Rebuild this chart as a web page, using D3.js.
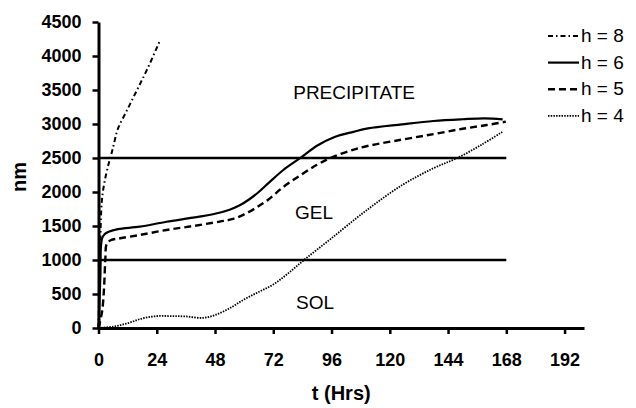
<!DOCTYPE html>
<html>
<head>
<meta charset="utf-8">
<script src="https://cdn.jsdelivr.net/npm/d3@7"></script>
<style>
  body { margin: 0; background: #fff; }
  svg { display: block; font-family: "Liberation Sans", Arial, sans-serif; }
</style>
</head>
<body>
<div id="chart"></div>
<script>
// values
const xTicks = [0, 24, 48, 72, 96, 120, 144, 168, 192];
const yTicks = [0, 500, 1000, 1500, 2000, 2500, 3000, 3500, 4000, 4500];

const h8Hours = [0, 0.3, 0.7, 1.4, 2.5, 4.2, 5.4, 6.3, 8, 12, 16, 20, 25.3];
const h8Nm    = [0, 600, 1200, 1880, 2150, 2420, 2570, 2700, 2930, 3220, 3510, 3800, 4225];

const h6Hours = [0, 0.8, 1, 1.5, 2.5, 4.2, 8, 17, 28, 39, 48, 54, 58, 62, 66, 70, 76, 83.3, 90, 97, 105, 111, 125, 138, 150, 159, 166.5];
const h6Nm    = [0, 800, 1200, 1320, 1380, 1416, 1455, 1490, 1563, 1622, 1680, 1740, 1800, 1890, 2000, 2130, 2320, 2504, 2680, 2805, 2885, 2936, 2995, 3044, 3070, 3083, 3069];

const h5Hours = [0, 1.5, 2.3, 2.8, 3.4, 5, 9, 17, 28, 39, 50, 55, 60, 65, 70, 76, 83.3, 90, 95.7, 103, 110.8, 125, 138.3, 150, 160, 167.8];
const h5Nm    = [0, 250, 600, 1000, 1240, 1290, 1320, 1368, 1441, 1500, 1565, 1600, 1670, 1770, 1890, 2070, 2250, 2400, 2504, 2600, 2676, 2770, 2853, 2930, 2985, 3034];

const h4Hours = [0, 6, 12, 18, 24, 30, 36, 43, 48, 54, 60, 66, 72, 78, 85, 96, 110, 125, 138, 148, 158, 166.5];
const h4Nm    = [0, 20, 70, 140, 175, 175, 170, 148, 190, 290, 420, 530, 640, 800, 1010, 1320, 1720, 2100, 2350, 2504, 2700, 2887];

const boundaries = [1000, 2500];
const boundaryEnd = 168;

const regions = [
  { label: 'PRECIPITATE', t: 105.3, nm: 3368 },
  { label: 'GEL', t: 88.8, nm: 1603 },
  { label: 'SOL', t: 89.2, nm: 280 }
];

const series = [
  { name: 'h = 8', hours: h8Hours, nm: h8Nm, dash: '5,3,1.5,3', width: 2 },
  { name: 'h = 6', hours: h6Hours, nm: h6Nm, dash: null, width: 2.2 },
  { name: 'h = 5', hours: h5Hours, nm: h5Nm, dash: '7,4', width: 2.4 },
  { name: 'h = 4', hours: h4Hours, nm: h4Nm, dash: '1.5,1.2', width: 1.8 }
];

const width = 636, height = 408;
const margin = { top: 22, right: 52, bottom: 80, left: 98.5 };

const svg = d3.select('#chart').append('svg')
  .attr('width', width)
  .attr('height', height);

const x = d3.scaleLinear().domain([0, 200]).range([margin.left, width - margin.right]);
const y = d3.scaleLinear().domain([0, 4500]).range([height - margin.bottom, margin.top]);

// axes
const xAxis = svg.append('g')
  .attr('transform', `translate(0,${y(0)})`)
  .call(d3.axisBottom(x).tickValues(xTicks).tickFormat(d3.format('d'))
    .tickSize(6).tickSizeOuter(0).tickPadding(19));

const yAxis = svg.append('g')
  .attr('transform', `translate(${x(0)},0)`)
  .call(d3.axisLeft(y).tickValues(yTicks).tickFormat(d3.format('d'))
    .tickSize(6).tickSizeOuter(0).tickPadding(11));

[xAxis, yAxis].forEach(a => {
  a.select('.domain').attr('stroke', '#000').attr('stroke-width', 3);
  a.selectAll('.tick line').attr('stroke', '#000').attr('stroke-width', 2.5);
  a.selectAll('.tick text')
    .attr('fill', '#000')
    .style('font-family', '"Liberation Sans", Arial, sans-serif')
    .style('font-size', '18px')
    .style('font-weight', 'bold');
});

// axis titles
svg.append('text')
  .attr('x', (x(0) + x(200)) / 2)
  .attr('y', 400)
  .attr('text-anchor', 'middle')
  .style('font-size', '20px')
  .style('font-weight', 'bold')
  .text('t (Hrs)');

svg.append('text')
  .attr('transform', `translate(26,${177}) rotate(-90)`)
  .attr('text-anchor', 'middle')
  .style('font-size', '20px')
  .style('font-weight', 'bold')
  .text('nm');

// sol / gel / precipitate boundaries
svg.selectAll('.boundary')
  .data(boundaries)
  .enter().append('line')
  .attr('class', 'boundary')
  .attr('x1', x(0))
  .attr('x2', x(boundaryEnd))
  .attr('y1', d => y(d))
  .attr('y2', d => y(d))
  .attr('stroke', '#000')
  .attr('stroke-width', 2.5);

svg.selectAll('.region')
  .data(regions)
  .enter().append('text')
  .attr('class', 'region')
  .attr('x', d => x(d.t))
  .attr('y', d => y(d.nm))
  .attr('text-anchor', 'middle')
  .style('font-size', '19px')
  .text(d => d.label);

// curves
const line = d3.line()
  .x(d => x(d[0]))
  .y(d => y(d[1]))
  .curve(d3.curveCatmullRom.alpha(0.5));

svg.selectAll('.curve')
  .data(series)
  .enter().append('path')
  .attr('class', 'curve')
  .attr('d', d => line(d.hours.map((h, i) => [h, d.nm[i]])))
  .attr('fill', 'none')
  .attr('stroke', '#000')
  .attr('stroke-width', d => d.width)
  .attr('stroke-dasharray', d => d.dash);

// legend
const legend = svg.append('g').attr('transform', 'translate(548,42)');
const rows = legend.selectAll('.row')
  .data(series)
  .enter().append('g')
  .attr('class', 'row')
  .attr('transform', (d, i) => `translate(0,${i * 26.6})`);

rows.append('line')
  .attr('x1', 0).attr('x2', 31)
  .attr('y1', -6).attr('y2', -6)
  .attr('stroke', '#000')
  .attr('stroke-width', d => d.width)
  .attr('stroke-dasharray', d => d.dash);

rows.append('text')
  .attr('x', 33)
  .style('font-size', '19px')
  .text(d => d.name);
</script>
</body>
</html>
